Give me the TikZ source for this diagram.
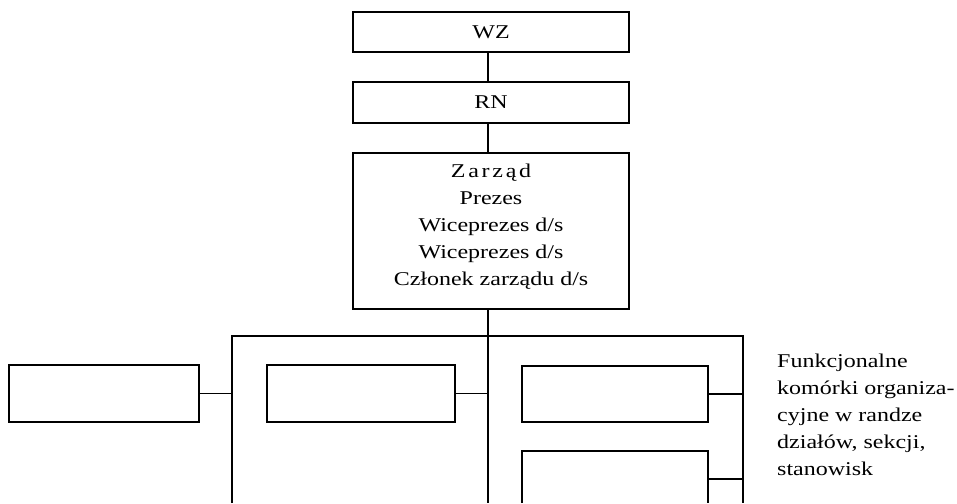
\documentclass[tikz,border=0pt]{standalone}
\usepackage{fontspec}
\setmainfont{Liberation Serif}[FakeStretch=1.23]
\begin{document}
\begin{tikzpicture}[x=1pt,y=-1pt,
  box/.style={draw,line width=1.6pt,minimum height=0pt,inner sep=0pt},
  ln/.style={line width=1.6pt},
  txt/.style={inner sep=0pt},
  every node/.style={font=\fontsize{19.5}{26.9}\selectfont}]
\useasboundingbox (0,0) rectangle (957,503);
% top boxes
\node[box,minimum width=276pt,minimum height=40pt] (wz) at (491,32) {WZ};
\node[box,minimum width=276pt,minimum height=41pt] (rn) at (491,102.5) {RN};
\node[box,minimum width=276pt,minimum height=156pt] (zr) at (491,231) {};
\node[txt,align=center,anchor=north] (zrt) at (491,163.7)
  {{\addfontfeature{LetterSpace=14}Zarząd}\\Prezes\\Wiceprezes d/s\\Wiceprezes d/s\\Członek zarządu d/s};
\draw[ln] (wz.south -| 488,0) -- (rn.north -| 488,0);
\draw[ln] (rn.south -| 488,0) -- (zr.north -| 488,0);
% frame
\coordinate (ftl) at (232,336);
\coordinate (ftr) at (743,336);
\coordinate (fbl) at (232,503);
\coordinate (fbr) at (743,503);
\coordinate (ztop) at (488,309);
\coordinate (zbot) at (488,503);
\draw[ln] (fbl) -- (ftl) -- (ftr) -- (fbr);
\draw[ln] (ztop) -- (zbot);
% boxes
\node[box,minimum width=190pt,minimum height=57pt] (l1) at (104,393.5) {};
\node[box,minimum width=188pt,minimum height=57pt] (m1) at (361,393.5) {};
\node[box,minimum width=186pt,minimum height=56pt] (r1) at (615,394) {};
\draw[ln] (l1.east) -- (l1.east -| ftl);
\draw[ln] (m1.east) -- (m1.east -| ztop);
\draw[ln] (r1.east) -- (r1.east -| ftr);
% open bottom box
\coordinate (b1) at (522,503);
\coordinate (b2) at (522,451);
\coordinate (b3) at (708,451);
\coordinate (b4) at (708,503);
\draw[ln] (b1) -- (b2) -- (b3) -- (b4);
\coordinate (b5) at (708,479);
\draw[ln] (b5) -- (b5 -| ftr);
% label
\node[txt,anchor=north west,align=left] (lab) at (777,353.7)
  {Funkcjonalne\\komórki organiza-\\cyjne w randze\\działów, sekcji,\\stanowisk};
\end{tikzpicture}
\end{document}
